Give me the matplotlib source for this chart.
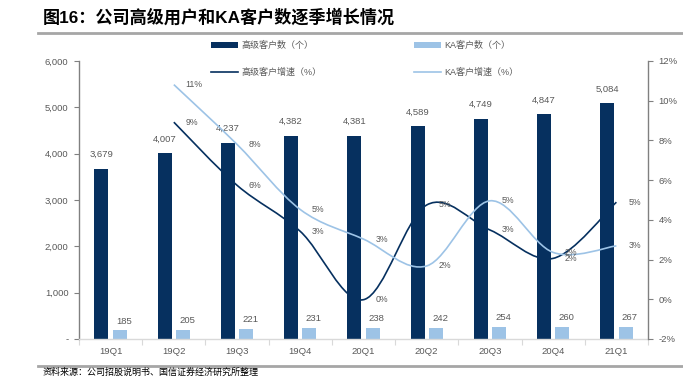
import matplotlib
matplotlib.use("Agg")
import matplotlib.pyplot as plt
from matplotlib.path import Path
from matplotlib.patches import PathPatch, Patch
from matplotlib.lines import Line2D
import numpy as np

categories = ["19Q1", "19Q2", "19Q3", "19Q4", "20Q1", "20Q2", "20Q3", "20Q4", "21Q1"]
premium_customers = [3679, 4007, 4237, 4382, 4381, 4589, 4749, 4847, 5084]
ka_customers = [185, 205, 221, 231, 238, 242, 254, 260, 267]
# growth (%) from 19Q2 to 21Q1
premium_growth = [8.92, 5.74, 3.42, -0.02, 4.75, 3.49, 2.06, 4.89]
ka_growth = [10.81, 7.80, 4.52, 3.03, 1.68, 4.96, 2.36, 2.69]

left_ticks = [0, 1000, 2000, 3000, 4000, 5000, 6000]
left_ticklabels = ["-", "1,000", "2,000", "3,000", "4,000", "5,000", "6,000"]
right_ticks = [-2, 0, 2, 4, 6, 8, 10, 12]
right_ticklabels = ["-2%", "0%", "2%", "4%", "6%", "8%", "10%", "12%"]

DARK = "#06305F"
LIGHT = "#9DC3E6"
GRAY = "#595959"
AX = "#808080"

plt.rcParams['font.family'] = ['Liberation Sans', 'Noto Sans CJK SC', 'DejaVu Sans']

W, H = 683, 377
fig = plt.figure(figsize=(W / 100, H / 100), dpi=100)
ax = fig.add_axes([79 / W, 1 - 339 / H, (648 - 79) / W, (339 - 61) / H])
ax2 = ax.twinx()

x = np.arange(len(categories))
bw = 0.22
off = 0.145
ax.bar(x - off, premium_customers, bw, color=DARK, zorder=2)
ax.bar(x + off, ka_customers, bw, color=LIGHT, zorder=2)

for xi, v in zip(x, premium_customers):
    ax.annotate(f"{v:,}", (xi - off, v), xytext=(0, 7), textcoords="offset points",
                ha="center", va="bottom", fontsize=6.8, color=GRAY)
for xi, v in zip(x, ka_customers):
    ax.annotate(f"{v:,}", (xi + off, v), xytext=(3, 3.5), textcoords="offset points",
                ha="center", va="bottom", fontsize=6.8, color=GRAY)

ax.set_xlim(-0.5, len(categories) - 0.5)
ax.set_ylim(0, 6000)
ax.set_yticks(left_ticks)
ax.set_yticklabels(left_ticklabels)
ax.set_xticks(x)
ax.set_xticklabels(categories)
ax.set_xticks(np.arange(-0.5, len(categories)), minor=True)
ax.tick_params(axis="x", which="major", length=0, pad=6, labelsize=6.8, labelcolor=GRAY)
ax.tick_params(axis="x", which="minor", length=4, color="#D9D9D9", width=0.8)
ax.tick_params(axis="y", length=3.5, color=AX, width=0.8, labelsize=6.8, labelcolor=GRAY, pad=4)

ax2.set_ylim(-2, 12)
ax2.set_yticks(right_ticks)
ax2.set_yticklabels(right_ticklabels)
ax2.tick_params(axis="y", length=3.5, color=AX, width=0.8, labelsize=6.8, labelcolor=GRAY, pad=4)

for a in (ax, ax2):
    a.spines["top"].set_visible(False)
ax.spines["right"].set_visible(False)
ax.spines["left"].set_color(AX)
ax.spines["left"].set_linewidth(1.0)
ax.spines["bottom"].set_color("#D9D9D9")
ax.spines["bottom"].set_linewidth(1.0)
ax2.spines["left"].set_visible(False)
ax2.spines["bottom"].set_visible(False)
ax2.spines["right"].set_color(AX)
ax2.spines["right"].set_linewidth(1.0)


def smooth_path(xs, ys):
    pts = np.column_stack([xs, ys]).astype(float)
    n = len(pts)
    verts = [pts[0]]
    codes = [Path.MOVETO]
    for i in range(n - 1):
        p0 = pts[i - 1] if i > 0 else pts[i]
        p1 = pts[i]
        p2 = pts[i + 1]
        p3 = pts[i + 2] if i + 2 < n else pts[i + 1]
        c1 = p1 + (p2 - p0) / 6.0
        c2 = p2 - (p3 - p1) / 6.0
        verts += [c1, c2, p2]
        codes += [Path.CURVE4] * 3
    return Path(verts, codes)


def pct(v):
    r = int(np.floor(v + 0.5))
    return f"{r}%"


gx = x[1:]
ax2.add_patch(PathPatch(smooth_path(gx, premium_growth), facecolor="none",
                        edgecolor=DARK, lw=1.2, zorder=3))
ax2.add_patch(PathPatch(smooth_path(gx, ka_growth), facecolor="none",
                        edgecolor=LIGHT, lw=1.2, zorder=3))

for xi, v in zip(gx, premium_growth):
    ax2.annotate(pct(v), (xi, v), xytext=(8.5, 0),
                 textcoords="offset points", ha="left", va="center", fontsize=6.3, color=GRAY, zorder=4)
for xi, v in zip(gx, ka_growth):
    ax2.annotate(pct(v), (xi, v), xytext=(8.5, 0),
                 textcoords="offset points", ha="left", va="center", fontsize=6.3, color=GRAY, zorder=4)

ax.set_zorder(1)
ax2.set_zorder(2)
ax2.patch.set_visible(False)

handles = [Patch(facecolor=DARK, edgecolor="none"),
           Line2D([0], [0], color=DARK, lw=1.2),
           Patch(facecolor=LIGHT, edgecolor="none"),
           Line2D([0], [0], color=LIGHT, lw=1.2)]
labels = ["高级客户数（个）", "高级客户增速（%）", "KA客户数（个）", "KA客户增速（%）"]
leg = fig.legend(handles, labels, ncol=2, loc="upper left",
                 bbox_to_anchor=(211 / W, 1 - 41 / H), frameon=False,
                 handlelength=3.0, handleheight=0.55, handletextpad=0.35,
                 columnspacing=10.3, labelspacing=1.95, borderpad=0, borderaxespad=0,
                 prop={"family": ["Liberation Sans", "Noto Sans CJK SC"], "size": 6.5})
for t in leg.get_texts():
    t.set_color(GRAY)

fig.text(43 / W, 1 - 17 / H, "图16：公司高级用户和KA客户数逐季增长情况", fontsize=12.3,
         fontweight="bold", ha="left", va="center", color="black")
fig.add_artist(Line2D([38 / W, 1.0], [1 - 33 / H, 1 - 33 / H], color="#A6A6A6", lw=2.0))
fig.add_artist(Line2D([38 / W, 1.0], [1 - 366 / H, 1 - 366 / H], color="#A6A6A6", lw=2.0))
fig.text(43 / W, 1 - 368 / H, "资料来源：公司招股说明书、国信证券经济研究所整理", fontsize=6.5,
         ha="left", va="top", color="black")

fig.savefig("out.png", dpi=100)
